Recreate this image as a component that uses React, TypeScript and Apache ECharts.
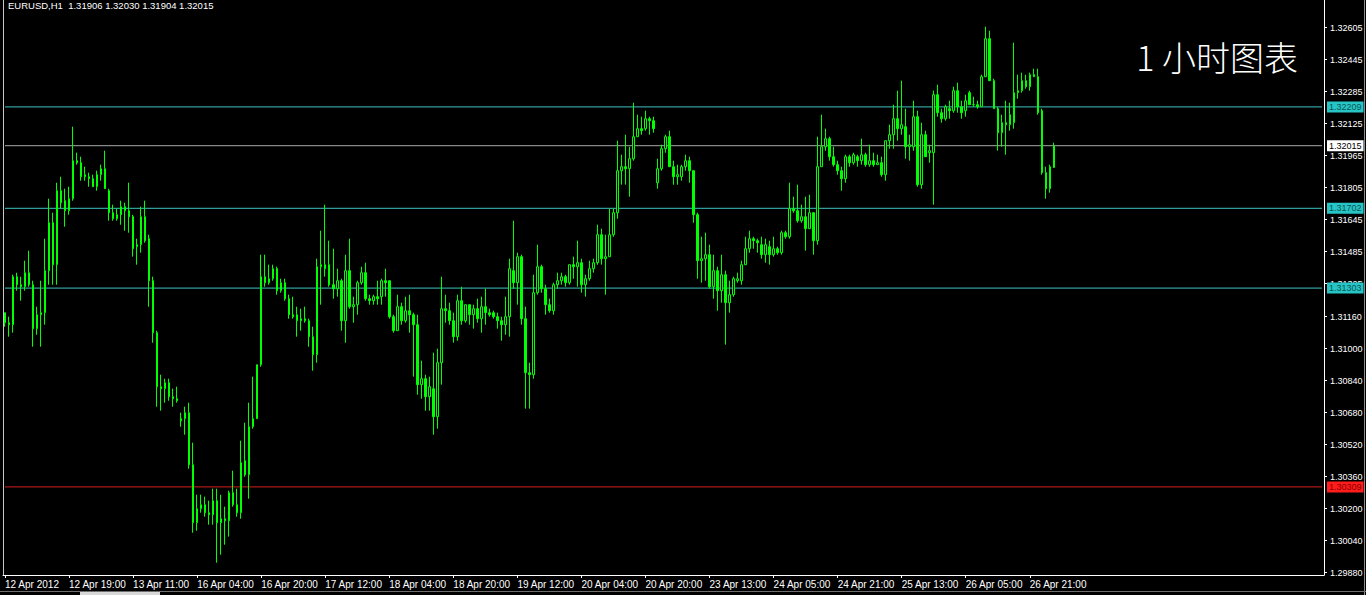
import React, { useEffect, useRef } from "react";
import * as echarts from "echarts";

const symbolInfo = "EURUSD,H1  1.31906 1.32030 1.31904 1.32015";
const chartTitle = "1 小时图表";

const yTickLabels = [
  "1.32605", "1.32445", "1.32285", "1.32125", "1.31965", "1.31805", "1.31645", "1.31485", "1.31325",
  "1.31160", "1.31000", "1.30840", "1.30680", "1.30520", "1.30360", "1.30200", "1.30040", "1.29880",
];

const xTickLabels = [
  "12 Apr 2012", "12 Apr 19:00", "13 Apr 11:00", "16 Apr 04:00", "16 Apr 20:00", "17 Apr 12:00",
  "18 Apr 04:00", "18 Apr 20:00", "19 Apr 12:00", "20 Apr 04:00", "20 Apr 20:00", "23 Apr 13:00",
  "24 Apr 05:00", "24 Apr 21:00", "25 Apr 13:00", "26 Apr 05:00", "26 Apr 21:00",
];

// price levels drawn as horizontal lines
const levelValues = [1.32209, 1.32015, 1.31702, 1.31303, 1.30309];
const levelKinds = ["cyan", "bid", "cyan", "cyan", "red"];

// hourly bars: [open, close, low, high]
const bars: number[][] = [
  [1.3118, 1.3113, 1.3111, 1.3118], [1.3113, 1.3112, 1.3106, 1.3116], [1.3112, 1.3136, 1.3108, 1.3137],
  [1.3136, 1.3132, 1.3129, 1.3138], [1.3132, 1.3131, 1.3124, 1.3136], [1.3131, 1.3138, 1.3129, 1.3144],
  [1.3138, 1.3132, 1.3131, 1.3149], [1.3132, 1.3110, 1.3101, 1.3134], [1.3110, 1.3117, 1.3107, 1.3121],
  [1.3117, 1.3118, 1.3101, 1.3134], [1.3118, 1.3139, 1.3112, 1.3155], [1.3139, 1.3163, 1.3132, 1.3175],
  [1.3163, 1.3142, 1.3132, 1.3168], [1.3142, 1.3179, 1.3132, 1.3183], [1.3179, 1.3173, 1.3170, 1.3186],
  [1.3174, 1.3169, 1.3161, 1.3180], [1.3169, 1.3175, 1.3167, 1.3181], [1.3175, 1.3194, 1.3174, 1.3211],
  [1.3194, 1.3193, 1.3192, 1.3198], [1.3193, 1.3186, 1.3184, 1.3196], [1.3186, 1.3187, 1.3184, 1.3191],
  [1.3186, 1.3185, 1.3181, 1.3188], [1.3185, 1.3181, 1.3181, 1.3187], [1.3181, 1.3187, 1.3179, 1.3189],
  [1.3187, 1.3190, 1.3184, 1.3192], [1.3190, 1.3180, 1.3180, 1.3199], [1.3179, 1.3168, 1.3164, 1.3180],
  [1.3168, 1.3165, 1.3164, 1.3172], [1.3165, 1.3167, 1.3164, 1.3170], [1.3167, 1.3171, 1.3162, 1.3174],
  [1.3171, 1.3169, 1.3159, 1.3173], [1.3169, 1.3166, 1.3158, 1.3183], [1.3166, 1.3150, 1.3146, 1.3167],
  [1.3151, 1.3152, 1.3142, 1.3155], [1.3152, 1.3166, 1.3148, 1.3171], [1.3166, 1.3154, 1.3153, 1.3174],
  [1.3155, 1.3134, 1.3121, 1.3157], [1.3134, 1.3108, 1.3103, 1.3136], [1.3108, 1.3081, 1.3071, 1.3109],
  [1.3081, 1.3080, 1.3069, 1.3087], [1.3080, 1.3083, 1.3073, 1.3085], [1.3083, 1.3076, 1.3074, 1.3085],
  [1.3076, 1.3075, 1.3071, 1.3080], [1.3075, 1.3074, 1.3073, 1.3081], [1.3065, 1.3064, 1.3061, 1.3068],
  [1.3065, 1.3068, 1.3057, 1.3071], [1.3068, 1.3042, 1.3040, 1.3073], [1.3042, 1.3013, 1.3008, 1.3053],
  [1.3013, 1.3020, 1.3009, 1.3027], [1.3020, 1.3022, 1.3018, 1.3027], [1.3022, 1.3018, 1.3016, 1.3026],
  [1.3018, 1.3017, 1.3012, 1.3024], [1.3017, 1.3024, 1.3012, 1.3030], [1.3024, 1.3013, 1.2993, 1.3030],
  [1.3013, 1.3015, 1.2997, 1.3027], [1.3015, 1.3014, 1.3002, 1.3021], [1.3014, 1.3028, 1.3006, 1.3029],
  [1.3028, 1.3022, 1.3021, 1.3039], [1.3022, 1.3018, 1.3016, 1.3030], [1.3018, 1.3043, 1.3015, 1.3054],
  [1.3044, 1.3037, 1.3036, 1.3063], [1.3037, 1.3061, 1.3025, 1.3073], [1.3061, 1.3065, 1.3060, 1.3086],
  [1.3065, 1.3092, 1.3065, 1.3092], [1.3092, 1.3136, 1.3091, 1.3147], [1.3136, 1.3133, 1.3131, 1.3147],
  [1.3133, 1.3135, 1.3132, 1.3142], [1.3135, 1.3140, 1.3134, 1.3142], [1.3140, 1.3129, 1.3127, 1.3141],
  [1.3129, 1.3133, 1.3128, 1.3135], [1.3133, 1.3125, 1.3124, 1.3135], [1.3125, 1.3117, 1.3115, 1.3127],
  [1.3117, 1.3116, 1.3115, 1.3126], [1.3117, 1.3114, 1.3106, 1.3121], [1.3114, 1.3115, 1.3109, 1.3120],
  [1.3115, 1.3114, 1.3113, 1.3121], [1.3114, 1.3106, 1.3101, 1.3115], [1.3106, 1.3097, 1.3089, 1.3111],
  [1.3097, 1.3141, 1.3093, 1.3145], [1.3141, 1.3142, 1.3122, 1.3159], [1.3140, 1.3142, 1.3136, 1.3172],
  [1.3142, 1.3132, 1.3131, 1.3154], [1.3132, 1.3130, 1.3125, 1.3150], [1.3130, 1.3134, 1.3126, 1.3140],
  [1.3134, 1.3114, 1.3109, 1.3135], [1.3114, 1.3139, 1.3103, 1.3147], [1.3139, 1.3121, 1.3120, 1.3155],
  [1.3121, 1.3122, 1.3113, 1.3126], [1.3122, 1.3133, 1.3117, 1.3134], [1.3133, 1.3138, 1.3132, 1.3141],
  [1.3138, 1.3125, 1.3124, 1.3143], [1.3125, 1.3124, 1.3122, 1.3127], [1.3124, 1.3126, 1.3122, 1.3127],
  [1.3126, 1.3125, 1.3122, 1.3134], [1.3126, 1.3134, 1.3122, 1.3135], [1.3134, 1.3133, 1.3126, 1.3140],
  [1.3134, 1.3116, 1.3115, 1.3134], [1.3116, 1.3109, 1.3108, 1.3117], [1.3109, 1.3121, 1.3109, 1.3127],
  [1.3121, 1.3114, 1.3112, 1.3123], [1.3114, 1.3119, 1.3113, 1.3126], [1.3119, 1.3117, 1.3108, 1.3127],
  [1.3117, 1.3112, 1.3086, 1.3118], [1.3112, 1.3082, 1.3077, 1.3117], [1.3082, 1.3085, 1.3075, 1.3094],
  [1.3085, 1.3076, 1.3069, 1.3087], [1.3076, 1.3081, 1.3069, 1.3086], [1.3080, 1.3066, 1.3057, 1.3098],
  [1.3066, 1.3093, 1.3060, 1.3100], [1.3093, 1.3120, 1.3082, 1.3136], [1.3120, 1.3119, 1.3113, 1.3127],
  [1.3119, 1.3114, 1.3112, 1.3123], [1.3114, 1.3106, 1.3103, 1.3118], [1.3106, 1.3124, 1.3104, 1.3127],
  [1.3124, 1.3114, 1.3112, 1.3131], [1.3114, 1.3122, 1.3113, 1.3122], [1.3122, 1.3117, 1.3112, 1.3122],
  [1.3117, 1.3120, 1.3110, 1.3122], [1.3120, 1.3115, 1.3113, 1.3125], [1.3115, 1.3121, 1.3108, 1.3126],
  [1.3121, 1.3118, 1.3112, 1.3130], [1.3118, 1.3117, 1.3116, 1.3120], [1.3118, 1.3116, 1.3115, 1.3119],
  [1.3116, 1.3114, 1.3110, 1.3118], [1.3114, 1.3112, 1.3104, 1.3116], [1.3112, 1.3116, 1.3107, 1.3126],
  [1.3116, 1.3140, 1.3106, 1.3145], [1.3139, 1.3133, 1.3130, 1.3164], [1.3133, 1.3146, 1.3122, 1.3148],
  [1.3146, 1.3115, 1.3112, 1.3147], [1.3115, 1.3088, 1.3070, 1.3121], [1.3088, 1.3087, 1.3070, 1.3093],
  [1.3087, 1.3128, 1.3085, 1.3137], [1.3128, 1.3141, 1.3127, 1.3152], [1.3141, 1.3130, 1.3128, 1.3142],
  [1.3130, 1.3122, 1.3117, 1.3132], [1.3122, 1.3119, 1.3118, 1.3125], [1.3119, 1.3132, 1.3117, 1.3133],
  [1.3132, 1.3134, 1.3130, 1.3138], [1.3134, 1.3136, 1.3132, 1.3138], [1.3136, 1.3133, 1.3131, 1.3137],
  [1.3133, 1.3142, 1.3132, 1.3142], [1.3142, 1.3141, 1.3135, 1.3146], [1.3141, 1.3143, 1.3131, 1.3154],
  [1.3143, 1.3132, 1.3128, 1.3145], [1.3132, 1.3135, 1.3126, 1.3137], [1.3135, 1.3140, 1.3134, 1.3144],
  [1.3140, 1.3143, 1.3138, 1.3145], [1.3143, 1.3157, 1.3142, 1.3162], [1.3157, 1.3145, 1.3142, 1.3160],
  [1.3145, 1.3146, 1.3127, 1.3157], [1.3146, 1.3157, 1.3146, 1.3170], [1.3157, 1.3168, 1.3156, 1.3170],
  [1.3168, 1.3189, 1.3165, 1.3204], [1.3189, 1.3191, 1.3182, 1.3197], [1.3191, 1.3190, 1.3182, 1.3207],
  [1.3190, 1.3195, 1.3176, 1.3201], [1.3195, 1.3206, 1.3194, 1.3223], [1.3206, 1.3210, 1.3206, 1.3217],
  [1.3210, 1.3209, 1.3207, 1.3216], [1.3210, 1.3215, 1.3209, 1.3219], [1.3215, 1.3214, 1.3207, 1.3216],
  [1.3214, 1.3210, 1.3208, 1.3216], [1.3183, 1.3190, 1.3180, 1.3195], [1.3190, 1.3200, 1.3189, 1.3202],
  [1.3200, 1.3206, 1.3198, 1.3207], [1.3206, 1.3191, 1.3191, 1.3209], [1.3191, 1.3186, 1.3182, 1.3194],
  [1.3186, 1.3187, 1.3182, 1.3192], [1.3186, 1.3191, 1.3184, 1.3192], [1.3191, 1.3194, 1.3189, 1.3197],
  [1.3194, 1.3189, 1.3183, 1.3196], [1.3189, 1.3167, 1.3163, 1.3189], [1.3167, 1.3144, 1.3135, 1.3168],
  [1.3144, 1.3145, 1.3133, 1.3156], [1.3145, 1.3147, 1.3134, 1.3158], [1.3147, 1.3131, 1.3130, 1.3152],
  [1.3131, 1.3139, 1.3125, 1.3147], [1.3139, 1.3129, 1.3119, 1.3141], [1.3129, 1.3137, 1.3123, 1.3147],
  [1.3137, 1.3123, 1.3102, 1.3139], [1.3123, 1.3127, 1.3118, 1.3134], [1.3127, 1.3135, 1.3126, 1.3136],
  [1.3134, 1.3135, 1.3133, 1.3138], [1.3134, 1.3142, 1.3132, 1.3144], [1.3142, 1.3150, 1.3142, 1.3156],
  [1.3150, 1.3155, 1.3148, 1.3159], [1.3155, 1.3154, 1.3150, 1.3156], [1.3154, 1.3153, 1.3148, 1.3155],
  [1.3152, 1.3147, 1.3145, 1.3156], [1.3147, 1.3152, 1.3143, 1.3155], [1.3151, 1.3147, 1.3142, 1.3154],
  [1.3147, 1.3150, 1.3146, 1.3156], [1.3150, 1.3148, 1.3147, 1.3151], [1.3148, 1.3158, 1.3147, 1.3159],
  [1.3158, 1.3156, 1.3155, 1.3159], [1.3156, 1.3170, 1.3155, 1.3183], [1.3170, 1.3169, 1.3168, 1.3176],
  [1.3169, 1.3164, 1.3163, 1.3182], [1.3164, 1.3166, 1.3163, 1.3172], [1.3166, 1.3160, 1.3149, 1.3176],
  [1.3160, 1.3168, 1.3160, 1.3177], [1.3168, 1.3154, 1.3147, 1.3168], [1.3154, 1.3191, 1.3152, 1.3206],
  [1.3191, 1.3201, 1.3191, 1.3217], [1.3201, 1.3205, 1.3199, 1.3210], [1.3205, 1.3196, 1.3194, 1.3206],
  [1.3196, 1.3192, 1.3191, 1.3201], [1.3192, 1.3189, 1.3187, 1.3194], [1.3189, 1.3185, 1.3179, 1.3191],
  [1.3185, 1.3196, 1.3183, 1.3197], [1.3196, 1.3193, 1.3191, 1.3197], [1.3193, 1.3197, 1.3192, 1.3198],
  [1.3196, 1.3194, 1.3191, 1.3197], [1.3194, 1.3197, 1.3192, 1.3205], [1.3197, 1.3192, 1.3191, 1.3198],
  [1.3192, 1.3194, 1.3191, 1.3202], [1.3194, 1.3192, 1.3191, 1.3198], [1.3192, 1.3193, 1.3192, 1.3197],
  [1.3193, 1.3187, 1.3186, 1.3196], [1.3187, 1.3204, 1.3184, 1.3204], [1.3204, 1.3207, 1.3200, 1.3212],
  [1.3207, 1.3215, 1.3200, 1.3222], [1.3215, 1.3210, 1.3204, 1.3229], [1.3210, 1.3212, 1.3207, 1.3234],
  [1.3211, 1.3201, 1.3195, 1.3220], [1.3201, 1.3202, 1.3194, 1.3207], [1.3201, 1.3216, 1.3199, 1.3224],
  [1.3216, 1.3182, 1.3181, 1.3219], [1.3182, 1.3207, 1.3180, 1.3213], [1.3207, 1.3196, 1.3196, 1.3209],
  [1.3198, 1.3199, 1.3193, 1.3202], [1.3198, 1.3227, 1.3172, 1.3229], [1.3227, 1.3218, 1.3216, 1.3232],
  [1.3218, 1.3215, 1.3213, 1.3220], [1.3215, 1.3221, 1.3214, 1.3222], [1.3220, 1.3219, 1.3215, 1.3224],
  [1.3219, 1.3229, 1.3218, 1.3231], [1.3229, 1.3221, 1.3218, 1.3233], [1.3221, 1.3218, 1.3215, 1.3224],
  [1.3219, 1.3224, 1.3216, 1.3227], [1.3228, 1.3222, 1.3222, 1.3229], [1.3222, 1.3222, 1.3221, 1.3226],
  [1.3222, 1.3221, 1.3220, 1.3224], [1.3221, 1.3236, 1.3221, 1.3237], [1.3236, 1.3255, 1.3236, 1.3261],
  [1.3255, 1.3234, 1.3234, 1.3259], [1.3234, 1.3220, 1.3220, 1.3235], [1.3220, 1.3208, 1.3199, 1.3221],
  [1.3208, 1.3213, 1.3201, 1.3217], [1.3213, 1.3212, 1.3197, 1.3224], [1.3212, 1.3217, 1.3209, 1.3223],
  [1.3213, 1.3228, 1.3210, 1.3253], [1.3228, 1.3229, 1.3225, 1.3237], [1.3229, 1.3234, 1.3228, 1.3238],
  [1.3234, 1.3231, 1.3230, 1.3237], [1.3231, 1.3237, 1.3229, 1.3238], [1.3237, 1.3236, 1.3236, 1.3240],
  [1.3236, 1.3218, 1.3217, 1.3240], [1.3219, 1.3188, 1.3187, 1.3220], [1.3188, 1.3180, 1.3175, 1.3191],
  [1.3180, 1.3191, 1.3178, 1.3192], [1.31906, 1.32015, 1.31904, 1.32030],
];

const MONTHS = ["Jan", "Feb", "Mar", "Apr", "May", "Jun", "Jul", "Aug", "Sep", "Oct", "Nov", "Dec"];
const SLOTS = 330; // bars + empty chart shift on the right
const BARS_PER_LABEL = 16;

function buildHours(count: number): string[] {
  const out: string[] = [];
  let t = Date.UTC(2012, 3, 12, 3);
  while (out.length < count) {
    const d = new Date(t);
    const wd = d.getUTCDay();
    const h = d.getUTCHours();
    const closed = wd === 6 || wd === 0 || (wd === 5 && h >= 23);
    if (!closed) {
      out.push(`${d.getUTCDate()} ${MONTHS[d.getUTCMonth()]} ${String(h).padStart(2, "0")}:00`);
    }
    t += 3600000;
  }
  return out;
}

const categories = buildHours(SLOTS);

const LEVEL_STYLE: Record<string, { line: string; bg: string; text: string }> = {
  cyan: { line: "#3ec3c3", bg: "#27c6c6", text: "#0c5454" },
  bid: { line: "#a8a8a8", bg: "#ffffff", text: "#000000" },
  red: { line: "#d42020", bg: "#ff1c1c", text: "#8a0000" },
};

export default function App() {
  const ref = useRef<HTMLDivElement>(null);

  useEffect(() => {
    document.body.style.margin = "0";
    document.body.style.background = "#000";
    if (!ref.current) return;
    const chart = echarts.init(ref.current, undefined, { renderer: "svg" });
    const tickValues = yTickLabels.map((s) => parseFloat(s));
    const showIdx = (i: number) => i % BARS_PER_LABEL === 0 && i < bars.length;
    const font = "'Liberation Sans', Arial, sans-serif";

    const levelSeries = levelValues.map((v, k) => {
      const st = LEVEL_STYLE[levelKinds[k]];
      return {
        type: "line",
        z: 1,
        silent: true,
        symbol: "none",
        data: [
          [0, v],
          [SLOTS - 1, v],
        ],
        lineStyle: { color: st.line, width: 1, type: "solid" },
        endLabel: {
          show: true,
          formatter: v.toFixed(5),
          backgroundColor: st.bg,
          color: st.text,
          fontSize: 9,
          fontFamily: font,
          lineHeight: 10,
          padding: [1, 2, 0, 2],
          distance: 5,
        },
      };
    });

    chart.setOption({
      animation: false,
      backgroundColor: "#000000",
      grid: { left: 3, right: 42, top: 0, bottom: 20 },
      xAxis: {
        type: "category",
        data: categories,
        boundaryGap: true,
        axisLine: { show: true, lineStyle: { color: "#ffffff", width: 1 } },
        axisTick: {
          show: true,
          alignWithLabel: true,
          interval: (i: number) => showIdx(i),
          length: 3,
          lineStyle: { color: "#ffffff" },
        },
        axisLabel: {
          interval: (i: number) => showIdx(i),
          formatter: (_v: string, i: number) => xTickLabels[Math.round(i / BARS_PER_LABEL)] ?? "",
          color: "#ffffff",
          fontSize: 10,
          fontFamily: font,
          align: "left",
          margin: 4,
        },
        splitLine: { show: false },
      },
      yAxis: {
        type: "value",
        position: "right",
        min: 1.298685,
        max: 1.327435,
        axisLine: { show: true, lineStyle: { color: "#ffffff", width: 1 } },
        axisTick: { show: true, length: 3, customValues: tickValues, lineStyle: { color: "#ffffff" } },
        axisLabel: {
          customValues: tickValues,
          formatter: (v: number) => {
            const s = yTickLabels.find((t) => Math.abs(parseFloat(t) - v) < 1e-7);
            return s ?? v.toFixed(5);
          },
          color: "#ffffff",
          fontSize: 9,
          fontFamily: font,
          margin: 6,
        },
        splitLine: { show: false },
      },
      series: [
        ...levelSeries,
        {
          type: "candlestick",
          z: 3,
          data: bars,
          barWidth: 2,
          itemStyle: {
            color: "#000000",
            color0: "#00ff00",
            borderColor: "#00ff00",
            borderColor0: "#00ff00",
            borderWidth: 1,
          },
        },
      ],
      graphic: [
        {
          type: "text",
          left: 8,
          top: 0,
          style: { text: symbolInfo, fill: "#ffffff", fontSize: 9.5, fontFamily: font },
        },
        {
          type: "text",
          x: 1298,
          y: 56,
          style: {
            text: chartTitle,
            fill: "#ffffff",
            fontSize: 34,
            fontWeight: 300,
            fontFamily: "'Noto Sans CJK SC', sans-serif",
            align: "right",
            verticalAlign: "middle",
          },
        },
        {
          type: "line",
          shape: { x1: 3.5, y1: 0, x2: 3.5, y2: 575 },
          style: { stroke: "#c8c8c8", lineWidth: 1 },
        },
        {
          type: "line",
          shape: { x1: 1364.5, y1: 0, x2: 1364.5, y2: 595 },
          style: { stroke: "#8c8c8c", lineWidth: 1 },
        },
        {
          type: "line",
          shape: { x1: 0, y1: 591.5, x2: 1366, y2: 591.5 },
          style: { stroke: "#6e6e6e", lineWidth: 1 },
        },
        {
          type: "rect",
          shape: { x: 80, y: 592, width: 80, height: 3 },
          style: { fill: "#d8d8d8" },
        },
      ],
    });

    return () => chart.dispose();
  }, []);

  return (
    <div
      ref={ref}
      style={{ position: "fixed", left: 0, top: 0, width: 1366, height: 595, background: "#000" }}
    />
  );
}
